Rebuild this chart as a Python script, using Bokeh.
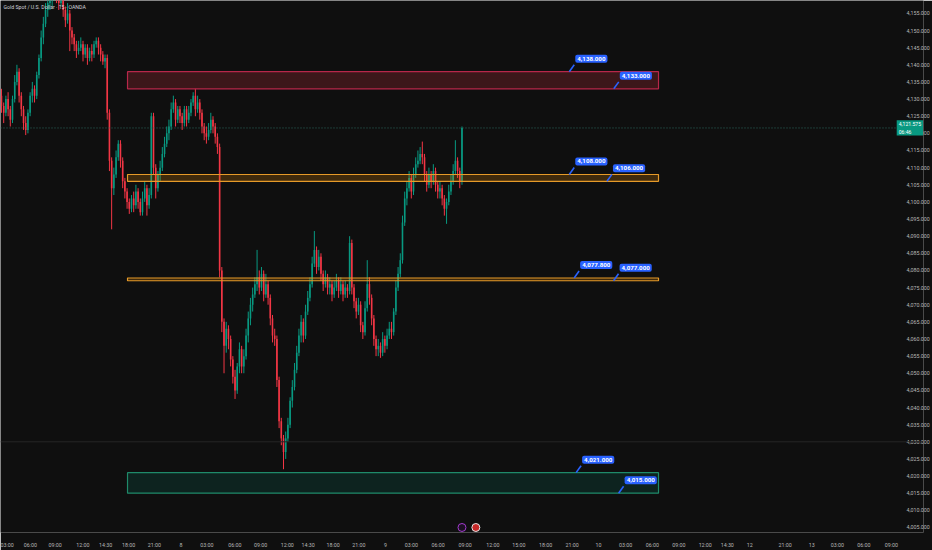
import re
from bokeh.plotting import figure
from bokeh.models import ColumnDataSource, FixedTicker, NumeralTickFormatter, Span, Label, Range1d
from bokeh.embed import file_html
from bokeh.resources import INLINE

# ---------------- data ----------------
TITLE = "Gold Spot / U.S. Dollar · 15 · OANDA"
FIRST_OPEN = 4131.0
LAST_PRICE = 4121.575
COUNTDOWN = "06:46"

closes = [
    4128, 4126, 4130, 4127, 4124, 4130, 4135, 4138, 4131, 4127,
    4123, 4121, 4126, 4131, 4133, 4131, 4137, 4142, 4148, 4152,
    4156, 4158, 4159, 4161, 4162, 4160, 4158, 4160, 4156, 4153,
    4155, 4150, 4148, 4146, 4144, 4145, 4146, 4143, 4145, 4142,
    4144, 4143, 4146, 4147, 4145, 4143, 4141, 4142, 4126, 4112,
    4104, 4108, 4113, 4117, 4112, 4106, 4103, 4100, 4098, 4101,
    4099, 4103, 4100, 4097, 4101, 4104, 4099, 4102, 4125, 4110,
    4104, 4108, 4110, 4114, 4117, 4120, 4122, 4127, 4129, 4124,
    4127, 4125, 4123, 4127, 4124, 4126, 4129, 4131, 4127, 4129,
    4126, 4122, 4120, 4119, 4121, 4124, 4122, 4119, 4116, 4080,
    4065, 4058, 4063, 4060, 4054, 4049, 4045, 4052, 4057, 4052,
    4055, 4061, 4066, 4070, 4073, 4076, 4078, 4075, 4079, 4073,
    4076, 4072, 4066, 4061, 4060, 4048, 4036, 4031, 4027, 4031,
    4035, 4042, 4046, 4051, 4056, 4061, 4065, 4061, 4068, 4072,
    4076, 4082, 4086, 4081, 4084, 4079, 4076, 4078, 4075, 4076,
    4073, 4075, 4077, 4074, 4076, 4073, 4075, 4074, 4088, 4075,
    4071, 4068, 4070, 4064, 4062, 4069, 4076, 4072, 4066, 4060,
    4057, 4058, 4056, 4060, 4058, 4061, 4063, 4062, 4068, 4075,
    4079, 4083, 4094, 4101, 4104, 4107, 4103, 4108, 4111, 4112,
    4114, 4113, 4108, 4105, 4108, 4106, 4109, 4105, 4103, 4104,
    4101, 4098, 4100, 4103, 4106, 4109, 4112, 4109, 4106, 4121.575,
]
highs = [
    4133, 4129, 4131, 4132, 4128, 4131, 4137, 4140, 4139, 4132,
    4128, 4125, 4127, 4132, 4135, 4134, 4138, 4143, 4150, 4154,
    4158, 4161, 4162, 4164, 4165, 4163, 4161, 4162, 4161, 4157,
    4158, 4156, 4151, 4149, 4147, 4147, 4148, 4147, 4146, 4146,
    4145, 4146, 4147, 4148, 4148, 4146, 4144, 4143, 4143, 4127,
    4113, 4110, 4115, 4118, 4118, 4113, 4107, 4104, 4101, 4102,
    4103, 4105, 4104, 4101, 4103, 4106, 4105, 4104, 4126, 4126,
    4111, 4109, 4112, 4116, 4119, 4122, 4124, 4129, 4131, 4130,
    4128, 4128, 4126, 4128, 4128, 4128, 4130, 4132, 4133, 4131,
    4130, 4127, 4123, 4122, 4123, 4126, 4125, 4123, 4120, 4117,
    4081, 4066, 4065, 4064, 4061, 4055, 4051, 4053, 4059, 4058,
    4057, 4063, 4068, 4072, 4075, 4078, 4086, 4080, 4081, 4080,
    4079, 4077, 4073, 4067, 4063, 4061, 4049, 4037, 4032, 4033,
    4037, 4043, 4048, 4053, 4058, 4063, 4067, 4066, 4070, 4074,
    4078, 4084, 4091.5, 4087, 4086, 4085, 4080, 4080, 4079, 4078,
    4077, 4077, 4079, 4078, 4078, 4077, 4077, 4076, 4090, 4089,
    4076, 4072, 4072, 4071, 4065, 4071, 4083, 4078, 4073, 4067,
    4061, 4060, 4059, 4062, 4061, 4063, 4065, 4065, 4069, 4077,
    4081, 4085, 4096, 4103, 4106, 4109, 4108, 4110, 4113, 4115,
    4116, 4117.6, 4114, 4109, 4110, 4109, 4111, 4110, 4106, 4106,
    4105, 4102, 4101, 4105, 4108, 4111, 4118, 4113, 4110, 4122,
]
lows = [
    4126, 4123, 4125, 4125, 4122, 4123, 4129, 4134, 4129, 4125,
    4121, 4119.5, 4120, 4125, 4129, 4129, 4130, 4136, 4141, 4146,
    4151, 4154, 4156, 4157, 4159, 4158, 4156, 4157, 4154, 4151,
    4152, 4144, 4146, 4144, 4142, 4143, 4144, 4141, 4142, 4140,
    4141, 4141, 4142, 4145, 4143, 4141, 4140, 4139, 4124, 4109,
    4092, 4102, 4107, 4112, 4110, 4104, 4101, 4098, 4096.5, 4097,
    4097, 4098, 4098, 4096, 4096, 4100, 4096, 4098, 4101, 4108,
    4101, 4103, 4106, 4109, 4113, 4116, 4118, 4121, 4126, 4122,
    4123, 4123, 4121, 4122, 4122, 4123, 4125, 4128, 4125, 4126,
    4124, 4120, 4118, 4117, 4118, 4120, 4120, 4117, 4114, 4078,
    4062, 4050, 4056, 4057, 4052, 4047, 4042.5, 4044, 4050, 4050,
    4050, 4054, 4059, 4064, 4068, 4072, 4074, 4073, 4074, 4071,
    4072, 4070, 4064, 4059, 4058, 4046, 4034, 4029, 4022, 4025,
    4030, 4034, 4040, 4045, 4050, 4055, 4059, 4059, 4060, 4067,
    4071, 4075, 4081, 4079, 4080, 4077, 4074, 4075, 4073, 4073,
    4071, 4072, 4074, 4072, 4073, 4071, 4072, 4072, 4073, 4073,
    4069, 4066, 4067, 4062, 4060, 4061, 4068, 4070, 4064, 4058,
    4055, 4055, 4054.5, 4055, 4056, 4057, 4060, 4060, 4061, 4067,
    4074, 4078, 4082, 4093, 4099, 4103, 4101, 4102, 4107, 4110,
    4111, 4111, 4106, 4103, 4104, 4104, 4105, 4103, 4101, 4101,
    4099, 4096, 4093.6, 4099, 4102, 4105, 4108, 4107, 4104, 4105,
]

# time axis (bar-index positions and labels)
time_tick_pos = [1.8, 13.1, 24.3, 36.9, 47.3, 57.7, 69.4, 81.5,
                 93.2, 105.9, 117.6, 129.7, 139.2, 150.5, 162.2, 174.3,
                 186.0, 198.2, 210.4, 223.0, 234.8, 247.0, 259.0, 271.0,
                 283.3, 295.4, 307.4, 319.4, 329.4, 339.6, 355.7, 367.7,
                 379.4, 391.4, 403.9]
time_tick_lab = ["03:00", "06:00", "09:00", "12:00", "14:30", "18:00", "21:00", "8",
                 "03:00", "06:00", "09:00", "12:00", "14:30", "18:00", "21:00", "9",
                 "03:00", "06:00", "09:00", "12:00", "15:00", "18:00", "21:00", "10",
                 "03:00", "06:00", "09:00", "12:00", "14:30", "12", "21:00", "13",
                 "03:00", "06:00", "09:00"]

price_ticks = list(range(4005, 4160, 5))

# drawn zones: price bounds and bar-index extents
zone_top = [4138.0, 4108.0, 4077.8, 4021.0]
zone_bot = [4133.0, 4106.0, 4077.0, 4015.0]
zone_start = [57.2, 57.2, 57.2, 57.2]
zone_end = [298.2, 298.2, 298.2, 298.2]
label_top_at = [257.7, 257.7, 259.9, 260.8]
label_bot_at = [277.9, 274.8, 277.8, 280.1]

# ---------------- styles / layout ----------------
BG = "#0f0f0f"
UP = "#089981"
DOWN = "#f23645"
AXIS_TXT = "#b8b8b8"
BLUE = "#2962ff"
FONT = "Roboto"
zone_line = ["#b7274a", "#e69a28", "#e69a28", "#1f8a6a"]
zone_fill = ["#f23645", "#ff9800", "#ff9800", "#089981"]
zone_alpha = [0.2, 0.2, 0.2, 0.15]

PX_PER_BAR = 2.22
PX_PER_USD = 3.453
W, H = 932, 550
RIGHT_AX, BOTTOM_AX = 2, 14
FRAME_W, FRAME_H = W - RIGHT_AX, H - BOTTOM_AX
X0 = -0.45
Y_TOP = 4155 + 13 / PX_PER_USD

opens = [FIRST_OPEN] + closes[:-1]
idx = list(range(len(closes)))
colors = [UP if c >= o else DOWN for o, c in zip(opens, closes)]
src = ColumnDataSource(dict(
    x=idx, open=opens, close=closes, high=highs, low=lows,
    top=[max(o, c) for o, c in zip(opens, closes)],
    bottom=[min(o, c) for o, c in zip(opens, closes)],
    color=colors,
))

p = figure(width=W, height=H, output_backend="svg", toolbar_location=None,
           x_range=Range1d(X0, X0 + FRAME_W / PX_PER_BAR),
           y_range=Range1d(Y_TOP - FRAME_H / PX_PER_USD, Y_TOP),
           y_axis_location="right",
           min_border_left=0, min_border_top=0,
           min_border_right=RIGHT_AX, min_border_bottom=BOTTOM_AX,
           background_fill_color=BG, border_fill_color=BG,
           outline_line_color=None)
p.grid.grid_line_color = None

# faint horizontal line and current price line
p.add_layout(Span(location=4030, dimension="width", line_color="#262626", line_width=1))
p.add_layout(Span(location=LAST_PRICE, dimension="width", line_color="#2f6b60",
                  line_width=1, line_dash="1 2"))

# candles
p.segment(x0="x", y0="low", x1="x", y1="high", source=src, line_color="color", line_width=1)
p.vbar(x="x", width=0.72, top="top", bottom="bottom", source=src,
       fill_color="color", line_color=None)

# zones
p.quad(left=zone_start, right=zone_end, top=zone_top, bottom=zone_bot,
       fill_color=zone_fill, fill_alpha=zone_alpha, line_color=zone_line, line_width=1.2)

# price tags with pointers
PAD = 2
dx = 5 / PX_PER_BAR
dy = 7 / PX_PER_USD
tag_x, tag_y = [], []
for ax_top, ax_bot, zt, zb in zip(label_top_at, label_bot_at, zone_top, zone_bot):
    for ax, pr in ((ax_top, zt), (ax_bot, zb)):
        tag_x.append(ax)
        tag_y.append(pr)
        p.add_layout(Label(x=ax, y=pr, x_offset=4 + PAD, y_offset=7 + PAD,
                           text=f"{pr:,.3f}", text_font=FONT, text_font_size="6.2px",
                           text_font_style="bold", text_color="white",
                           text_align="left", text_baseline="bottom",
                           background_fill_color=BLUE, padding=PAD, border_radius=2))
p.segment(x0=tag_x, y0=tag_y, x1=[v + dx for v in tag_x], y1=[v + dy for v in tag_y],
          line_color=BLUE, line_width=1.6)

# title
p.add_layout(Label(x=X0 + 3 / PX_PER_BAR, y=Y_TOP - 7 / PX_PER_USD, text=TITLE,
                   text_font=FONT, text_font_size="5.2px", text_color="#d1d4dc",
                   text_baseline="middle", text_align="left"))

# event icons near the time axis
p.scatter(x=[209, 215.3], y=[4005.0, 4005.0], size=[8, 8],
          fill_color=["#1c0f22", "#c62828"], line_color=["#a23ccf", "#e6e6e6"], line_width=1)

# current price tag on the price scale
p.add_layout(Label(x=(903 - 1) / PX_PER_BAR, y=LAST_PRICE,
                   text=f"{LAST_PRICE:,.3f}\n{COUNTDOWN}", text_font=FONT,
                   text_font_size="5.1px", text_color="white", text_align="left",
                   text_baseline="middle", background_fill_color=UP, padding=(2, 1)))

# axes
ya = p.yaxis[0]
ya.ticker = FixedTicker(ticks=price_ticks)
ya.formatter = NumeralTickFormatter(format="0,0.000")
ya.major_label_standoff = -23
xa = p.xaxis[0]
xa.ticker = FixedTicker(ticks=time_tick_pos)
xa.major_label_overrides = {pos: lab for pos, lab in zip(time_tick_pos, time_tick_lab)}
xa.major_label_standoff = 3
for ax in (xa, ya):
    ax.axis_line_color = None
    ax.major_tick_line_color = None
    ax.minor_tick_line_color = None
    ax.major_label_text_color = AXIS_TXT
    ax.major_label_text_font = FONT
    ax.major_label_text_font_size = "5.3px"

html = file_html(p, INLINE, title="Gold Spot / U.S. Dollar")
html = re.sub(r"<body([^>]*)>", r'<body\1 style="background-color:#0f0f0f;">', html, count=1)
open("out.html", "w").write(html)
